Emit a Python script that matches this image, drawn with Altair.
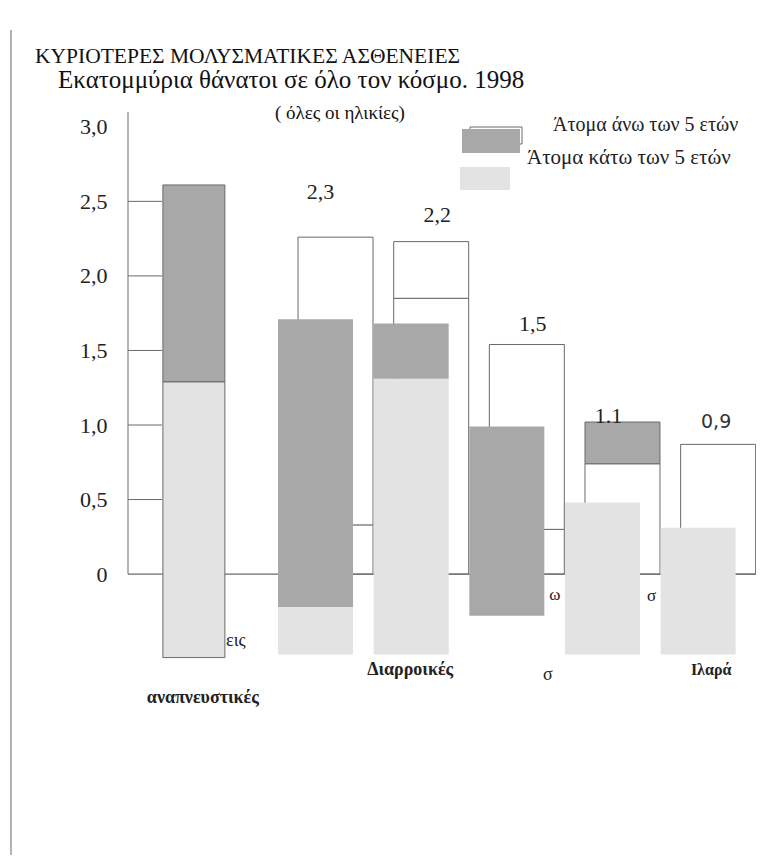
import altair as alt
import pandas as pd

# ---------------- data ----------------
categories = ["Οξείες αναπνευστικές λοιμώξεις", "HIV/AIDS", "Διαρροϊκές",
              "Φυματίωση", "Ελονοσία", "Ιλαρά"]
series_names = ["Άτομα άνω των 5 ετών", "Άτομα κάτω των 5 ετών", "γκρι"]
series_colors = ["#ffffff", "#a8a8a8", "#e3e3e3"]

# outlined (registered) layer
outline_cat = [1, 1, 2, 2, 3, 3, 4, 4, 5]
outline_lo = [0.0, 0.33, 0.0, 1.85, 0.0, 0.30, 0.0, 0.74, 0.0]
outline_hi = [0.33, 2.26, 1.85, 2.23, 0.30, 1.54, 0.74, 1.02, 0.87]
outline_ser = [0, 0, 0, 0, 0, 0, 0, 1, 0]

# grey (mis-registered) layer
grey_cat = [0, 0, 1, 1, 2, 2, 3, 4, 5]
grey_lo = [-0.56, 1.29, -0.54, -0.22, -0.54, 1.31, -0.28, -0.54, -0.54]
grey_hi = [1.29, 2.61, -0.22, 1.71, 1.31, 1.68, 0.99, 0.48, 0.31]
grey_ser = [2, 1, 2, 1, 2, 1, 1, 2, 2]

# value labels
value_cat = [1, 2, 3, 4, 5]
value_txt = ["2,3", "2,2", "1,5", "1.1", "0,9"]
value_y = [2.56, 2.41, 1.68, 1.06, 1.02]

# category label fragments
catlab_cat = [0, 0, 2, 3, 5, 3, 4]
catlab_txt = ["εις", "αναπνευστικές", "Διαρροικές", "σ", "Ιλαρά", "ω", "σ "]
catlab_y = [-0.45, -0.83, -0.64, -0.68, -0.64, -0.14, -0.15]

y_ticks = [0, 0.5, 1.0, 1.5, 2.0, 2.5, 3.0]
inner_ticks = [0.5, 1.0, 1.5, 2.0, 2.5]
axis_top = 3.1

title1 = "ΚΥΡΙΟΤΕΡΕΣ ΜΟΛΥΣΜΑΤΙΚΕΣ ΑΣΘΕΝΕΙΕΣ"
title2 = "Εκατομμύρια θάνατοι σε όλο τον κόσμο. 1998"
title3 = "( όλες οι ηλικίες)"

# ---------------- frames ----------------
A = pd.DataFrame({"cat": [categories[i] for i in outline_cat], "lo": outline_lo,
                  "hi": outline_hi, "ser": [series_names[i] for i in outline_ser]})
B = pd.DataFrame({"cat": [categories[i] for i in grey_cat], "lo": grey_lo,
                  "hi": grey_hi, "ser": [series_names[i] for i in grey_ser]})
V = pd.DataFrame({"cat": [categories[i] for i in value_cat], "t": value_txt, "y": value_y})
C = pd.DataFrame({"cat": [categories[i] for i in catlab_cat], "t": catlab_txt, "y": catlab_y})
T = pd.DataFrame({"y": inner_ticks})
YL = pd.DataFrame({"y0": [0.0], "y1": [axis_top]})
XL = pd.DataFrame({"y0": [0.0]})

W, H = 628, 574
FONT = "'Liberation Serif', 'DejaVu Serif', serif"

xsc = alt.Scale(domain=categories, paddingInner=0.216, paddingOuter=0.3908, align=0.995)
ysc = alt.Scale(domain=[-0.65, 3.2], nice=False, zero=False)
yax = alt.Axis(values=y_ticks, domain=False, ticks=False, grid=False, labelPadding=21,
               labelFont=FONT, labelFontSize=22, labelColor="#222",
               labelExpr="datum.value == 0 ? '0' : replace(format(datum.value, '.1f'), '.', ',')",
               title=None)
csc = alt.Scale(domain=series_names, range=series_colors)

X = alt.X("cat:N", scale=xsc, axis=None, sort=categories)

def Y(field):
    return alt.Y(field, type="quantitative", scale=ysc, axis=yax)

outline = alt.Chart(A).mark_bar(stroke="#6e6866", strokeWidth=1).encode(
    x=X, y=Y("lo"), y2="hi", color=alt.Color("ser:N", scale=csc, legend=None))

xline = alt.Chart(XL).mark_rule(color="#6e6866", strokeWidth=1.2).encode(
    y=Y("y0"), x=alt.value(0), x2=alt.value(W))
yline = alt.Chart(YL).mark_rule(color="#6e6866", strokeWidth=1).encode(
    y=Y("y0"), y2="y1", x=alt.value(0))
ticks = alt.Chart(T).mark_rule(color="#6e6866", strokeWidth=1).encode(
    y=Y("y"), x=alt.value(0), x2=alt.value(34))

# per-label horizontal nudges and styles (style only)
label_style = {
    "εις": dict(dx=-4, fontSize=18, fontWeight="normal"),
    "αναπνευστικές": dict(dx=-37, fontSize=18, fontWeight="bold"),
    "Διαρροικές": dict(dx=-21, fontSize=18, fontWeight="bold"),
    "σ": dict(dx=21, fontSize=18, fontWeight="normal"),
    "Ιλαρά": dict(dx=-7, fontSize=16, fontWeight="bold"),
    "ω": dict(dx=28, fontSize=17, fontWeight="normal"),
    "σ ": dict(dx=29, fontSize=17, fontWeight="normal"),
}
catlayers = []
for txt, st in label_style.items():
    catlayers.append(
        alt.Chart(C).transform_filter(alt.datum.t == txt).mark_text(
            font=FONT, color="#222", baseline="middle", **st).encode(
            x=X, y=Y("y"), text="t:N"))

grey_first = alt.Chart(B).transform_filter(alt.datum.cat == categories[0]).mark_bar(
    xOffset=-46, width=62, stroke="#6e6866", strokeWidth=1).encode(
    x=X, y=Y("lo"), y2="hi", color=alt.Color("ser:N", scale=csc, legend=None))
grey_rest = alt.Chart(B).transform_filter(alt.datum.cat != categories[0]).mark_bar(
    xOffset=-20).encode(
    x=X, y=Y("lo"), y2="hi", color=alt.Color("ser:N", scale=csc, legend=None))

value_dx = {"2,3": -15, "2,2": 6, "1,5": 6, "1.1": -14}
valayers = []
for txt, dx in value_dx.items():
    valayers.append(
        alt.Chart(V).transform_filter(alt.datum.t == txt).mark_text(
            font=FONT, fontSize=22, color="#222", baseline="middle", dx=dx).encode(
            x=X, y=Y("y"), text="t:N"))
values_sans = alt.Chart(V).transform_filter(alt.datum.t == "0,9").mark_text(
    font="DejaVu Sans", fontSize=19, color="#333", baseline="middle", dx=-2).encode(
    x=X, y=Y("y"), text="t:N")

# manual legend (positions relative to plot origin)
LG = pd.DataFrame({"ser": series_names})
leg_white = alt.Chart(LG).transform_filter(alt.datum.ser == series_names[0]).mark_rect(
    stroke="#6e6866", strokeWidth=1, fill="#ffffff").encode(
    x=alt.value(342), x2=alt.value(394), y=alt.value(30), y2=alt.value(47))
leg_dark = alt.Chart(LG).transform_filter(alt.datum.ser == series_names[1]).mark_rect(
    fill=series_colors[1]).encode(
    x=alt.value(334), x2=alt.value(392), y=alt.value(32), y2=alt.value(56))
leg_light = alt.Chart(LG).transform_filter(alt.datum.ser == series_names[2]).mark_rect(
    fill=series_colors[2]).encode(
    x=alt.value(332), x2=alt.value(382), y=alt.value(70), y2=alt.value(93))
leg_t1 = alt.Chart(LG).transform_filter(alt.datum.ser == series_names[0]).mark_text(
    font=FONT, fontSize=20, color="#222", align="left", baseline="middle").encode(
    x=alt.value(425), y=alt.value(28), text="ser:N")
leg_t2 = alt.Chart(LG).transform_filter(alt.datum.ser == series_names[1]).mark_text(
    font=FONT, fontSize=21, color="#222", align="left", baseline="middle").encode(
    x=alt.value(399), y=alt.value(61), text="ser:N")

TT = pd.DataFrame({"t": [title1, title2, title3], "k": [1, 2, 3]})
t1 = alt.Chart(TT).transform_filter(alt.datum.k == 1).mark_text(
    font=FONT, fontSize=21.5, color="#111", align="left", baseline="alphabetic").encode(
    x=alt.value(-93), y=alt.value(-34), text="t:N")
t2 = alt.Chart(TT).transform_filter(alt.datum.k == 2).mark_text(
    font=FONT, fontSize=25, color="#111", align="left", baseline="alphabetic").encode(
    x=alt.value(-70), y=alt.value(-9), text="t:N")
t3 = alt.Chart(TT).transform_filter(alt.datum.k == 3).mark_text(
    font=FONT, fontSize=19, color="#111", align="left", baseline="alphabetic").encode(
    x=alt.value(147), y=alt.value(22), text="t:N")

border = alt.Chart(XL).mark_rule(color="#9a9a9a", strokeWidth=1.5).encode(
    x=alt.value(-117), y=alt.value(-67), y2=alt.value(763))

chart = alt.layer(
    outline, xline, yline, ticks, *catlayers, grey_first, grey_rest,
    *valayers, values_sans, leg_white, leg_dark, leg_light, leg_t1, leg_t2,
    t1, t2, t3, border
).properties(
    width=W, height=H, autosize="none",
    padding={"left": 120, "top": 89, "right": 0, "bottom": 184},
    background="#ffffff"
).configure_view(stroke=None)

chart.save("out.html", embed_options={"renderer": "svg", "actions": False})
